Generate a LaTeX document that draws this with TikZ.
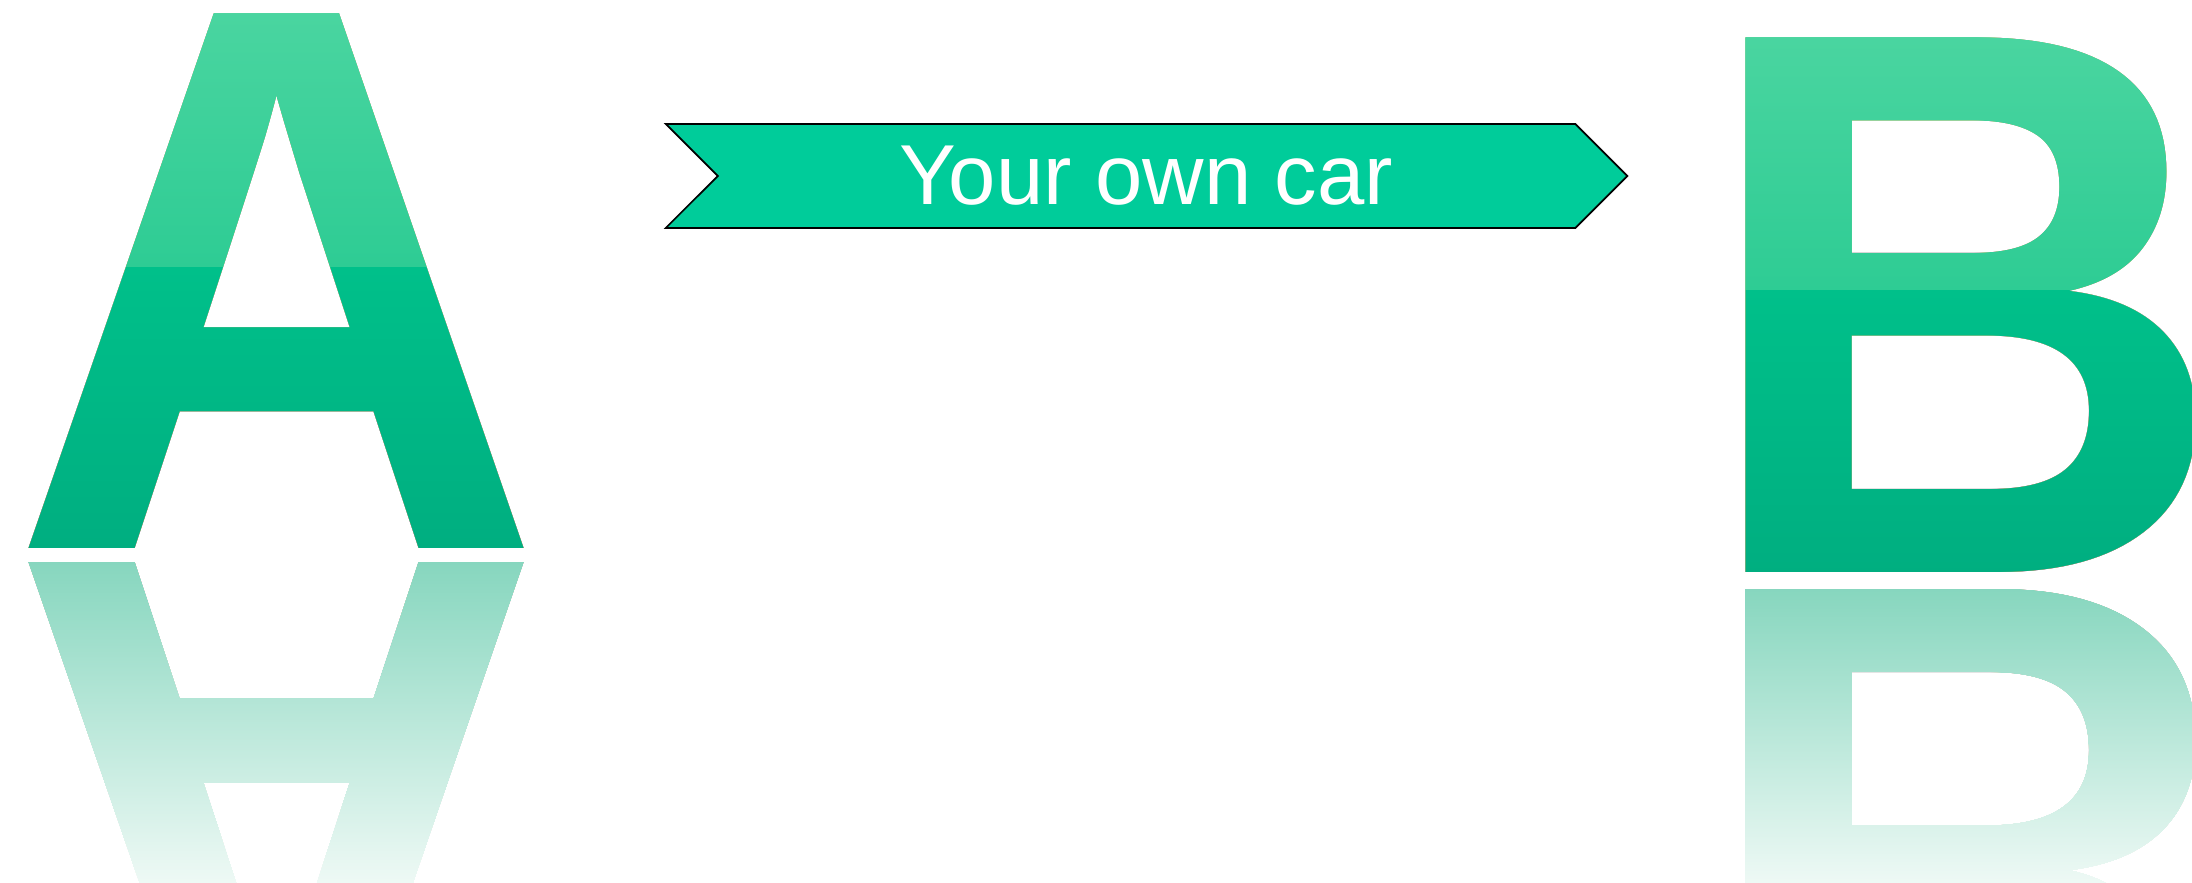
\documentclass[tikz,border=0pt]{standalone}
\usepackage{fontspec}
\setmainfont{Liberation Sans}
\usepackage{tikz}
\usetikzlibrary{shapes.symbols}
\definecolor{glosstop}{HTML}{4AD5A0}
\definecolor{glossmid}{HTML}{2ECC94}
\definecolor{bodytop}{HTML}{00C08A}
\definecolor{bodybottom}{HTML}{00AE80}
\definecolor{mirrortop}{HTML}{86D6BE}
\definecolor{mirrorbottom}{HTML}{EEF9F5}
\definecolor{ribbon}{HTML}{00CC9A}
\newcommand{\bigletter}{\fontsize{221pt}{221pt}\selectfont\bfseries}
\tikzset{
  letter/.style={anchor=base west, inner sep=0pt, text=black, xscale=0.95, font=\bigletter},
  reflected/.style={letter, yscale=-1},
  gloss/.style={top color=glosstop, bottom color=glossmid},
  body/.style={top color=bodytop, bottom color=bodybottom},
  fadefill/.style={top color=mirrortop, bottom color=mirrorbottom},
  banner/.style={
    signal,
    signal to=east,
    signal from=west,
    signal pointer angle=90,
    fill=ribbon,
    draw=black,
    line width=0.5pt,
    minimum width=9.61cm,
    minimum height=1.04cm,
    inner sep=0pt,
    text=white,
    font=\fontsize{24.2pt}{24.2pt}\selectfont
  }
}
\begin{document}
\begin{tikzpicture}[x=0.01cm, y=-0.01cm]
  \fill[white] (0,0) rectangle (2192,883);
  \useasboundingbox (0,0) rectangle (2192,883);

  \node[letter] (letterA) at (10,549) {A};
  \node[letter] (letterB) at (1696,573) {B};
  \node[reflected] (mirrorA) at (10,563) {A};
  \node[reflected] (mirrorB) at (1696,590) {B};

  \begin{scope}[blend mode=lighten]
    \shade[gloss] (0,10) rectangle (570,267);
    \shade[body] (0,267) rectangle (570,552);
    \shade[gloss] (1740,34) rectangle (2192,290);
    \shade[body] (1740,290) rectangle (2192,576);
    \shade[fadefill] (0,560) rectangle (570,883);
    \shade[fadefill] (1740,587) rectangle (2192,883);
  \end{scope}

  \node[banner] (ribbon) at (1146.5,176) {Your own car};
\end{tikzpicture}
\end{document}
